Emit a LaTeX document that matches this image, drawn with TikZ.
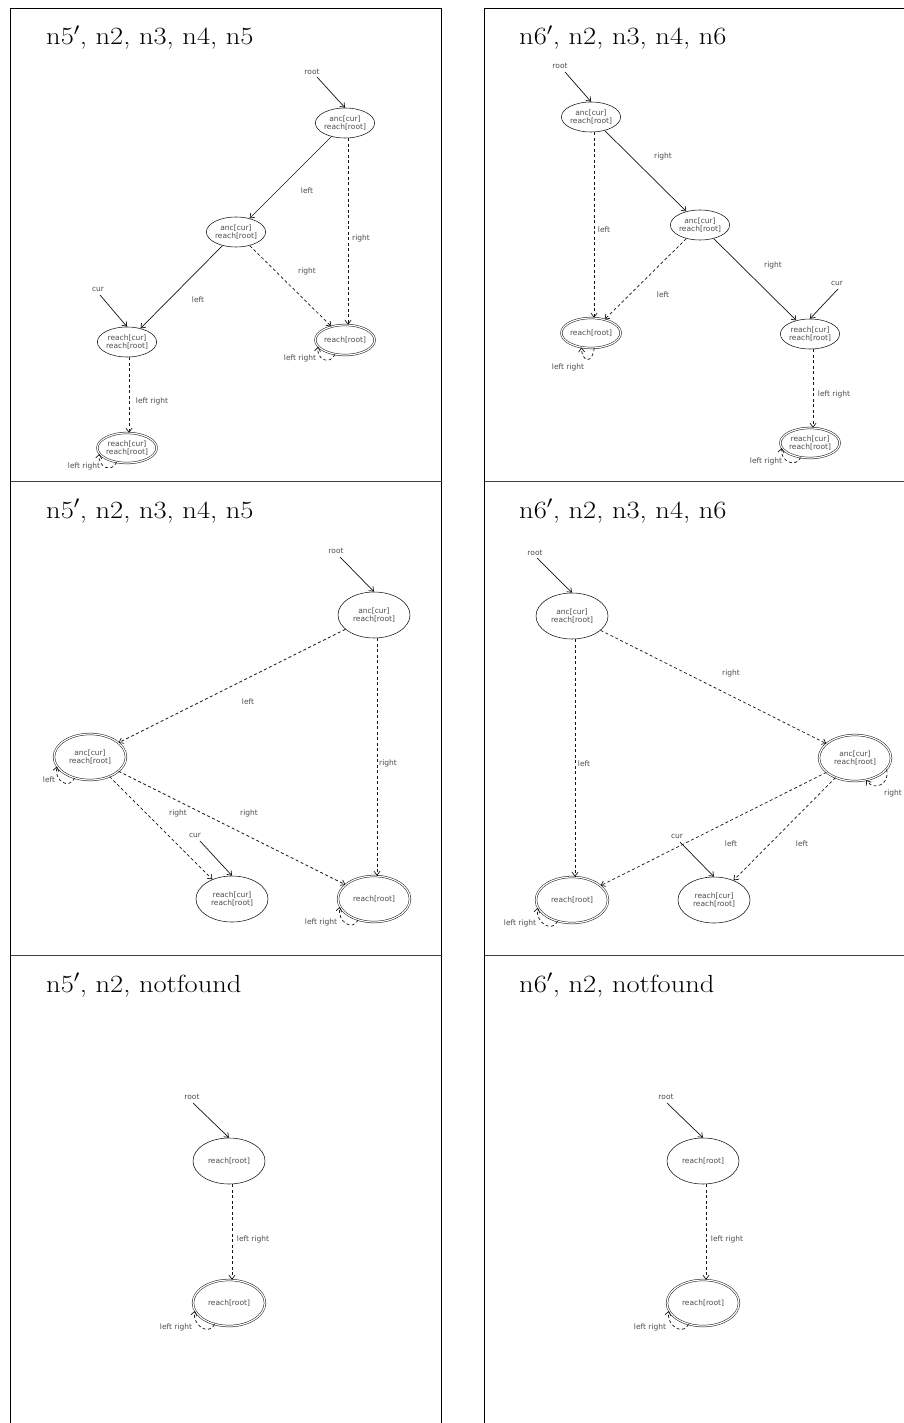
\documentclass[tikz,border=0pt]{standalone}
\usepackage{fontspec}
\usetikzlibrary{shapes.geometric,arrows.meta}
\newfontfamily\lblfont{DejaVu Sans}
\definecolor{txt}{gray}{0.3}
\definecolor{ink}{gray}{0.08}
\newcommand{\ttltext}[1]{\scalebox{1.15}[1]{\fontsize{24.8}{30}\selectfont #1}}

\begin{document}
\begin{tikzpicture}[x=1pt,y=-1pt,
  st/.style={ellipse, draw=ink, line width=0.55pt, inner sep=0pt, align=center,
    font=\lblfont\fontsize{7.5}{8.3}\selectfont, text=txt},
  sm/.style={st, minimum width=55pt, minimum height=30pt},
  lg/.style={st, minimum width=72pt, minimum height=46pt},
  acc/.style={double=white, double distance=1.2pt, line width=0.5pt},
  lbl/.style={font=\lblfont\fontsize{7.5}{8.3}\selectfont, text=txt, inner sep=0pt},
  e/.style={draw=ink, line width=0.7pt, -{Straight Barb[length=4pt,width=6pt]}},
  de/.style={e, dash pattern=on 3pt off 2.5pt},
  ttl/.style={anchor=base west, inner sep=0pt},
  frame/.style={line width=0.9pt}
]
\fill[white] (0,0) rectangle (904,1423);
\useasboundingbox (0,0) rectangle (904,1423);

% panel frames
\draw[frame] (10.5,1423) -- (10.5,8) -- (441.5,8) -- (441.5,1423);
\draw[frame] (484.5,1423) -- (484.5,8) -- (904,8);
\draw[frame, black!75] (10.5,481.5) -- (441.5,481.5);
\draw[frame, black!75] (484.5,481.5) -- (904,481.5);
\draw[frame, black!75] (10.5,955.5) -- (441.5,955.5);
\draw[frame, black!75] (484.5,955.5) -- (904,955.5);

% titles
\node[ttl] (t1) at (46,45)  {\ttltext{n5$'$, n2, n3, n4, n5}};
\node[ttl] (t2) at (519,45) {\ttltext{n6$'$, n2, n3, n4, n6}};
\node[ttl] (t3) at (46,518) {\ttltext{n5$'$, n2, n3, n4, n5}};
\node[ttl] (t4) at (519,518) {\ttltext{n6$'$, n2, n3, n4, n6}};
\node[ttl] (t5) at (46,992) {\ttltext{n5$'$, n2, notfound}};
\node[ttl] (t6) at (519,992) {\ttltext{n6$'$, n2, notfound}};

% ---------- top left ----------
\node[sm] (A1) at (345,123) {anc[cur]\\reach[root]};
\node[sm] (B1) at (236,232) {anc[cur]\\reach[root]};
\node[sm] (C1) at (127,342) {reach[cur]\\reach[root]};
\node[sm,acc] (D1) at (345,340) {reach[root]};
\node[sm,acc] (E1) at (127,448) {reach[cur]\\reach[root]};
\node[lbl] (r1) at (312,72) {root};
\coordinate (r1s) at (317,77);
\draw[e] (r1s) -- (A1.north);
\node[lbl] (c1) at (98,289) {cur};
\coordinate (c1s) at (100,295);
\draw[e] (c1s) -- (C1.north);
\draw[e] (A1) -- (B1) node[lbl] at (307,191) {left};
\draw[de] ([xshift=3pt]A1.south) -- ([xshift=3pt]D1.north) node[lbl] at (361,238) {right};
\draw[e] (B1) -- (C1) node[lbl] at (198,300) {left};
\draw[de] (B1) -- (D1) node[lbl] at (307,271) {right};
\draw[de] ([xshift=2pt]C1.south) -- ([xshift=2pt]E1.north) node[lbl] at (152,401) {left right};
\draw[de] (D1.235) .. controls +(-5,11) and +(-2,13) .. (D1.194) node[lbl] at (300,358) {left right};
\draw[de] (E1.234) .. controls +(-5,11) and +(-2,13) .. (E1.192) node[lbl] at (84,466) {left right};

% ---------- top right ----------
\node[sm] (A2) at (591,117) {anc[cur]\\reach[root]};
\node[sm] (B2) at (700,225) {anc[cur]\\reach[root]};
\node[sm] (C2) at (810,334) {reach[cur]\\reach[root]};
\node[sm,acc] (D2) at (591,333) {reach[root]};
\node[sm,acc] (E2) at (810,443) {reach[cur]\\reach[root]};
\node[lbl] (r2) at (560,66) {root};
\coordinate (r2s) at (565,72);
\draw[e] (r2s) -- (A2.north);
\node[lbl] (c2) at (837,283) {cur};
\coordinate (c2s) at (838,289);
\draw[e] (c2s) -- (C2.north);
\draw[e] (A2) -- (B2) node[lbl] at (663,156) {right};
\draw[de] ([xshift=3pt]A2.south) -- ([xshift=3pt]D2.north) node[lbl] at (604,230) {left};
\draw[de] (B2) -- (D2) node[lbl] at (663,295) {left};
\draw[e] (B2) -- (C2) node[lbl] at (773,265) {right};
\draw[de] ([xshift=3pt]C2.south) -- ([xshift=3pt]E2.north) node[lbl] at (834,394) {left right};
\draw[de] (D2.282) .. controls +(-2,16) and +(1,15) .. (D2.236) node[lbl] at (568,367) {left right};
\draw[de] (E2.237) .. controls +(-5,11) and +(-2,13) .. (E2.190) node[lbl] at (766,461) {left right};

% ---------- middle left ----------
\node[lg] (A3) at (374,615) {anc[cur]\\reach[root]};
\node[lg,acc] (B3) at (90,757) {anc[cur]\\reach[root]};
\node[lg] (C3) at (232,899) {reach[cur]\\reach[root]};
\node[lg,acc] (D3) at (374,899) {reach[root]};
\node[lbl] (r3) at (336,551) {root};
\coordinate (r3s) at (340,557);
\draw[e] (r3s) -- (A3.north);
\node[lbl] (c3) at (195,835) {cur};
\coordinate (c3s) at (200,841);
\draw[e] (c3s) -- (C3.north);
\draw[de] (A3) -- (B3) node[lbl] at (248,702) {left};
\draw[de] ([xshift=3pt]A3.south) -- ([xshift=3pt]D3.north) node[lbl] at (388,763) {right};
\draw[de] (B3) -- (C3) node[lbl] at (178,813) {right};
\draw[de] (B3) -- (D3) node[lbl] at (249,813) {right};
\draw[de] (B3.234) .. controls +(-6,12) and +(-3,14) .. (B3.196) node[lbl] at (49,780) {left};
\draw[de] (D3.233) .. controls +(-6,12) and +(-3,14) .. (D3.193) node[lbl] at (321,922) {left right};

% ---------- middle right ----------
\node[lg] (A4) at (572,616) {anc[cur]\\reach[root]};
\node[lg,acc] (B4) at (855,758) {anc[cur]\\reach[root]};
\node[lg] (C4) at (714,900) {reach[cur]\\reach[root]};
\node[lg,acc] (D4) at (572,900) {reach[root]};
\node[lbl] (r4) at (535,553) {root};
\coordinate (r4s) at (537,558);
\draw[e] (r4s) -- (A4.north);
\node[lbl] (c4) at (677,836) {cur};
\coordinate (c4s) at (680,842);
\draw[e] (c4s) -- (C4.north);
\draw[de] (A4) -- (B4) node[lbl] at (731,673) {right};
\draw[de] ([xshift=3pt]A4.south) -- ([xshift=3pt]D4.north) node[lbl] at (584,764) {left};
\draw[de] (B4) -- (D4) node[lbl] at (731,844) {left};
\draw[de] (B4) -- (C4) node[lbl] at (802,844) {left};
\draw[de] (B4.340) .. controls +(4,14) and +(8,12) .. (B4.297) node[lbl] at (893,793) {right};
\draw[de] (D4.236) .. controls +(-6,12) and +(-3,14) .. (D4.193) node[lbl] at (520,923) {left right};

% ---------- bottom left ----------
\node[lg] (A5) at (229,1161) {reach[root]};
\node[lg,acc] (B5) at (229,1303) {reach[root]};
\node[lbl] (r5) at (192,1097) {root};
\coordinate (r5s) at (193,1103);
\draw[e] (r5s) -- (A5.north);
\draw[de] ([xshift=3pt]A5.south) -- ([xshift=3pt]B5.north) node[lbl] at (253,1239) {left right};
\draw[de] (B5.236) .. controls +(-6,12) and +(-3,14) .. (B5.193) node[lbl] at (176,1327) {left right};

% ---------- bottom right ----------
\node[lg] (A6) at (703,1161) {reach[root]};
\node[lg,acc] (B6) at (703,1303) {reach[root]};
\node[lbl] (r6) at (666,1097) {root};
\coordinate (r6s) at (667,1103);
\draw[e] (r6s) -- (A6.north);
\draw[de] ([xshift=3pt]A6.south) -- ([xshift=3pt]B6.north) node[lbl] at (727,1239) {left right};
\draw[de] (B6.236) .. controls +(-6,12) and +(-3,14) .. (B6.193) node[lbl] at (650,1327) {left right};
\end{tikzpicture}
\end{document}
